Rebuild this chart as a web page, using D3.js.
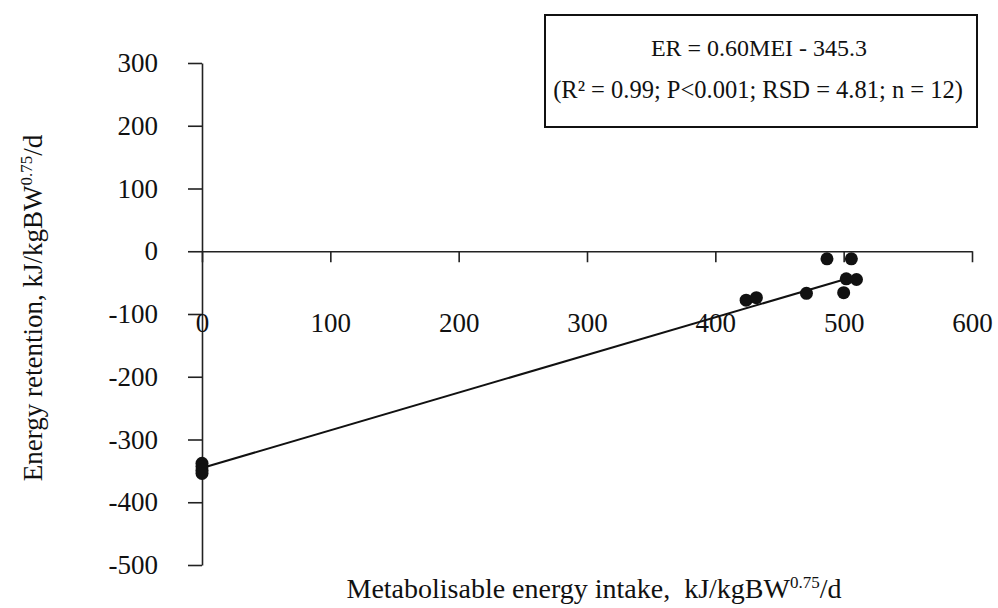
<!DOCTYPE html>
<html>
<head>
<meta charset="utf-8">
<script src="https://cdn.jsdelivr.net/npm/d3@7"></script>
<style>
  body { margin: 0; background: #fff; }
  text { font-family: "Liberation Serif", "Times New Roman", serif; fill: #111; }
</style>
</head>
<body>
<div id="chart"></div>
<script>
// data
const mei = [0, 0, 0, 0, 424, 432, 471, 487, 500, 502, 506, 510];
const er = [-338, -343, -349, -354, -78, -74, -67, -12, -66, -44, -12, -45];
const x_ticks = [0, 100, 200, 300, 400, 500, 600];
const y_ticks = [300, 200, 100, 0, -100, -200, -300, -400, -500];
const slope = 0.60;
const intercept = -345.3;
const fit_range = [0, 511];
const eq_lines = ["ER = 0.60MEI - 345.3", "(R² = 0.99; P<0.001; RSD = 4.81; n = 12)"];

const width = 998;
const height = 608;

const svg = d3.select("#chart")
              .append("svg")
              .attr("width", width)
              .attr("height", height);

const x = d3.scaleLinear().domain([0, 600]).range([202, 972]);
const y = d3.scaleLinear().domain([-500, 300]).range([565, 63]);

// plain hyphen for negatives, like the original
const fmt = d => String(d);

// y axis
const y_axis = svg.append("g")
                  .attr("transform", `translate(${x(0)},0)`)
                  .call(d3.axisLeft(y)
                          .tickValues(y_ticks)
                          .tickSize(14)
                          .tickSizeOuter(0)
                          .tickPadding(30)
                          .tickFormat(fmt));

// x axis sits on y = 0, labels pushed down
const x_axis = svg.append("g")
                  .attr("transform", `translate(0,${y(0)})`)
                  .call(d3.axisBottom(x)
                          .tickValues(x_ticks)
                          .tickSize(11)
                          .tickSizeOuter(0)
                          .tickPadding(51)
                          .tickFormat(fmt));

[y_axis, x_axis].forEach(a => {
    a.selectAll("path, line")
     .attr("stroke", "#222")
     .attr("stroke-width", 1.6);
    a.selectAll("text")
     .attr("fill", "#111")
     .style("font-family", "'Liberation Serif', serif");
});
y_axis.selectAll("text").style("font-size", "27px");
x_axis.selectAll("text").style("font-size", "27px");

// regression line
svg.append("line")
   .attr("x1", x(fit_range[0]))
   .attr("y1", y(slope * fit_range[0] + intercept))
   .attr("x2", x(fit_range[1]))
   .attr("y2", y(slope * fit_range[1] + intercept))
   .attr("stroke", "#111")
   .attr("stroke-width", 2);

// points
svg.append("g")
   .selectAll("circle")
   .data(mei.map((d, i) => [d, er[i]]))
   .join("circle")
   .attr("cx", d => x(d[0]))
   .attr("cy", d => y(d[1]))
   .attr("r", 6.5)
   .attr("fill", "#111");

// equation box
svg.append("rect")
   .attr("x", 545)
   .attr("y", 15)
   .attr("width", 432)
   .attr("height", 112)
   .attr("fill", "#fff")
   .attr("stroke", "#111")
   .attr("stroke-width", 2);

svg.append("text")
   .attr("x", 759)
   .attr("y", 56)
   .attr("text-anchor", "middle")
   .style("font-size", "24px")
   .text(eq_lines[0]);

svg.append("text")
   .attr("x", 758)
   .attr("y", 98)
   .attr("text-anchor", "middle")
   .style("font-size", "24.5px")
   .text(eq_lines[1]);

// axis titles with superscript
const title = (el, main, sup, tail) => {
    el.append("tspan").text(main);
    el.append("tspan").attr("dy", -10).style("font-size", "17px").text(sup);
    el.append("tspan").attr("dy", 10).text(tail);
};

const xt = svg.append("text")
              .attr("x", 594)
              .attr("y", 598)
              .attr("text-anchor", "middle")
              .style("font-size", "28px")
              .attr("xml:space", "preserve");
title(xt, "Metabolisable energy intake,  kJ/kgBW", "0.75", "/d");

const yt = svg.append("text")
              .attr("transform", "translate(42,308) rotate(-90)")
              .attr("text-anchor", "middle")
              .style("font-size", "27px");
title(yt, "Energy retention, kJ/kgBW", "0.75", "/d");
</script>
</body>
</html>
